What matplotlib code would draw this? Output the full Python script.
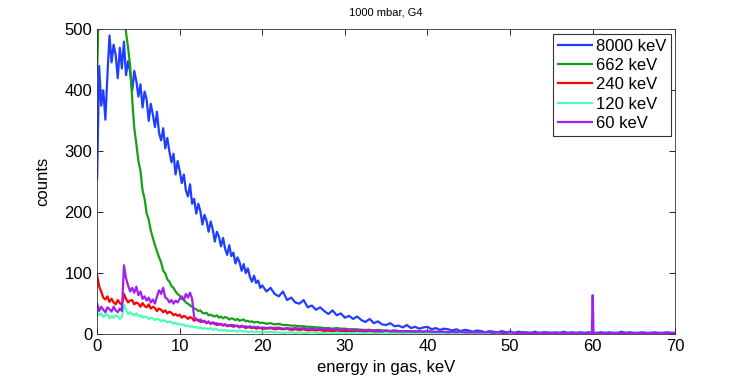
import numpy as np
import matplotlib
matplotlib.use('Agg')
import matplotlib.pyplot as plt

plt.rcParams['font.family'] = ['Liberation Sans', 'DejaVu Sans']

# energy bins (keV)
energy = np.concatenate([np.arange(0, 20.01, 0.25),
                         np.arange(20.5, 59.6, 0.5),
                         [59.8, 59.9, 60.0, 60.1, 60.2],
                         np.arange(60.5, 70.01, 0.5)])

# counts
counts_8000 = [
    255, 440, 375, 400, 352, 425, 490, 446, 475, 458,
    420, 470, 436, 480, 425, 448, 430, 400, 432, 415,
    390, 410, 372, 398, 385, 350, 378, 360, 340, 365,
    330, 318, 338, 305, 322, 300, 282, 296, 262, 284,
    268, 248, 262, 236, 226, 246, 214, 222, 198, 214,
    202, 180, 196, 186, 168, 185, 172, 152, 168, 160,
    144, 158, 140, 130, 146, 128, 134, 116, 126, 118,
    104, 115, 100, 108, 94, 86, 96, 84, 88, 76,
    80,
    70, 76, 66, 62, 70, 56, 60, 52, 50, 56,
    44, 47, 40, 44, 38, 33, 39, 31, 34, 27,
    30, 25, 29, 23, 20, 25, 18, 21, 16, 15,
    18, 13, 14, 11, 15, 10, 12, 9, 11, 12,
    8, 10, 7, 9, 8, 6, 8, 5, 7, 6,
    4, 6, 5, 3, 5, 4, 3, 5, 3, 4,
    2, 4, 3, 3, 2, 4, 2, 3, 3, 2,
    3, 2, 4, 2, 3, 2, 3, 2, 3,
    2, 3, 2, 3, 2,
    2, 3, 2, 3, 2, 2, 4, 2, 3, 2,
    2, 3, 2, 2, 3, 2, 2, 3, 2, 2,
]

counts_662 = [
    430, 560, 620, 680, 720, 750, 760, 760, 750, 730,
    700, 660, 610, 550, 495, 470, 440, 385, 338, 312,
    284, 268, 236, 222, 198, 188, 170, 158, 146, 136,
    126, 118, 104, 100, 90, 86, 79, 76, 70, 66,
    63, 58, 56, 52, 50, 47, 45, 42, 41, 38,
    39, 35, 34, 35, 31, 32, 30, 29, 31, 27,
    29, 26, 28, 27, 24, 26, 25, 23, 25, 22,
    23, 24, 21, 22, 20, 21, 19, 20, 20, 18,
    19,
    17, 18, 16, 17, 15, 15, 14, 14, 13, 13,
    12, 12, 11, 11, 10, 10, 9, 10, 9, 9,
    8, 8, 8, 7, 7, 7, 6, 7, 6, 6,
    5, 6, 5, 5, 5, 4, 5, 4, 4, 4,
    4, 3, 4, 3, 3, 3, 3, 3, 2, 3,
    2, 3, 2, 2, 2, 3, 2, 2, 2, 2,
    2, 2, 1, 2, 2, 1, 2, 1, 2, 1,
    1, 2, 1, 1, 2, 1, 1, 1, 1,
    1, 1, 1, 1, 1,
    1, 2, 1, 1, 2, 1, 1, 1, 2, 1,
    1, 1, 1, 2, 1, 1, 1, 1, 1, 1,
]

counts_240 = [
    97, 78, 70, 60, 57, 62, 53, 58, 52, 49,
    56, 51, 48, 66, 58, 52, 55, 56, 49, 52,
    50, 45, 51, 46, 44, 49, 42, 45, 43, 38,
    42, 40, 36, 39, 34, 37, 35, 31, 33, 30,
    32, 27, 30, 28, 25, 28, 26, 22, 25, 23,
    20, 22, 21, 18, 20, 17, 19, 18, 15, 17,
    16, 14, 16, 13, 14, 15, 12, 14, 13, 11,
    13, 12, 10, 12, 11, 10, 11, 9, 10, 10,
    9,
    9, 10, 8, 9, 8, 9, 7, 8, 7, 8,
    6, 7, 6, 7, 5, 6, 5, 6, 5, 5,
    4, 5, 4, 5, 4, 4, 3, 4, 3, 4,
    3, 3, 3, 4, 3, 3, 2, 3, 2, 3,
    2, 3, 2, 2, 2, 3, 2, 2, 2, 2,
    1, 2, 2, 1, 2, 2, 1, 2, 1, 2,
    1, 1, 2, 1, 1, 2, 1, 1, 1, 2,
    1, 1, 1, 1, 2, 1, 1, 1, 1,
    1, 1, 1, 1, 1,
    1, 1, 1, 2, 1, 1, 1, 1, 1, 1,
    1, 2, 1, 1, 1, 1, 1, 1, 1, 1,
]

counts_120 = [
    40, 31, 34, 28, 32, 33, 26, 30, 27, 31,
    29, 25, 28, 48, 40, 33, 36, 33, 31, 34,
    30, 31, 27, 29, 28, 25, 27, 26, 23, 25,
    24, 21, 23, 22, 19, 21, 20, 17, 19, 16,
    17, 15, 16, 13, 14, 12, 13, 11, 12, 10,
    11, 9, 10, 9, 8, 10, 7, 9, 8, 6,
    7, 6, 7, 5, 6, 5, 6, 5, 4, 6,
    5, 4, 5, 4, 3, 5, 3, 4, 4, 3,
    4,
    3, 4, 3, 3, 2, 3, 3, 2, 3, 2,
    2, 3, 2, 2, 2, 2, 1, 2, 2, 1,
    2, 1, 2, 1, 1, 2, 1, 1, 1, 2,
    1, 1, 1, 1, 1, 1, 1, 1, 1, 1,
    1, 1, 1, 1, 1, 1, 1, 1, 1, 1,
    1, 1, 1, 1, 1, 1, 1, 1, 1, 1,
    1, 1, 1, 1, 1, 1, 1, 1, 1, 1,
    1, 1, 1, 1, 1, 1, 1, 1, 1,
    1, 1, 1, 1, 1,
    1, 1, 1, 1, 1, 1, 1, 1, 1, 1,
    1, 1, 1, 1, 1, 1, 1, 1, 1, 1,
]

counts_60 = [
    50, 38, 45, 40, 36, 44, 41, 37, 45, 39,
    36, 42, 38, 113, 92, 80, 70, 76, 68, 78,
    64, 70, 58, 62, 55, 60, 52, 57, 50, 62,
    72, 66, 76, 60, 58, 52, 56, 50, 55, 52,
    58, 62, 56, 66, 60, 68, 58, 28, 24, 22,
    24, 20, 22, 18, 21, 17, 19, 16, 18, 15,
    17, 15, 16, 14, 15, 13, 15, 13, 14, 12,
    14, 12, 13, 11, 13, 11, 12, 11, 12, 10,
    11,
    10, 11, 10, 11, 9, 10, 9, 10, 9, 10,
    8, 9, 8, 9, 8, 9, 7, 8, 7, 8,
    7, 7, 6, 7, 6, 7, 6, 6, 5, 6,
    5, 6, 5, 5, 5, 5, 4, 5, 4, 5,
    4, 4, 4, 4, 3, 4, 3, 4, 3, 3,
    3, 3, 3, 3, 3, 2, 3, 2, 2, 3,
    2, 2, 2, 2, 2, 2, 2, 2, 2, 2,
    2, 2, 2, 2, 2, 2, 2, 2, 2,
    2, 2, 64, 2, 2,
    2, 2, 2, 2, 2, 2, 2, 2, 2, 2,
    2, 2, 2, 2, 2, 2, 2, 2, 2, 2,
]

labels = ['8000 keV', '662 keV', '240 keV', '120 keV', '60 keV']
colors = ['#1f3fff', '#16a016', '#ff0000', '#4dffb8', '#a020f0']

fig = plt.figure(figsize=(7.47, 3.78), dpi=100)
ax = fig.add_axes([0.13, 0.116, 0.774, 0.806])

for y, lab, c in zip([counts_8000, counts_662, counts_240, counts_120, counts_60], labels, colors):
    ax.plot(energy, y, color=c, linewidth=1.6, label=lab)

ax.set_xlim(0, 70)
ax.set_ylim(0, 500)
ax.set_xticks(range(0, 71, 10))
ax.set_yticks(range(0, 501, 100))
ax.tick_params(direction='in', top=True, right=True, length=4, width=0.6, labelsize=12)
for s in ax.spines.values():
    s.set_linewidth(0.6)
    s.set_color('#333333')

ax.set_xlabel('energy in gas, keV', fontsize=12, labelpad=4)
ax.set_ylabel('counts', fontsize=12, labelpad=10)
ax.set_title('1000 mbar, G4', fontsize=8, pad=10)

leg = ax.legend(loc='upper right', fontsize=12, fancybox=False, framealpha=1,
                edgecolor='#333333', borderaxespad=0.25, handlelength=2.0,
                handletextpad=0.25, labelspacing=0.26, borderpad=0.3)
leg.get_frame().set_linewidth(0.8)

plt.savefig('out.png', dpi=100)
